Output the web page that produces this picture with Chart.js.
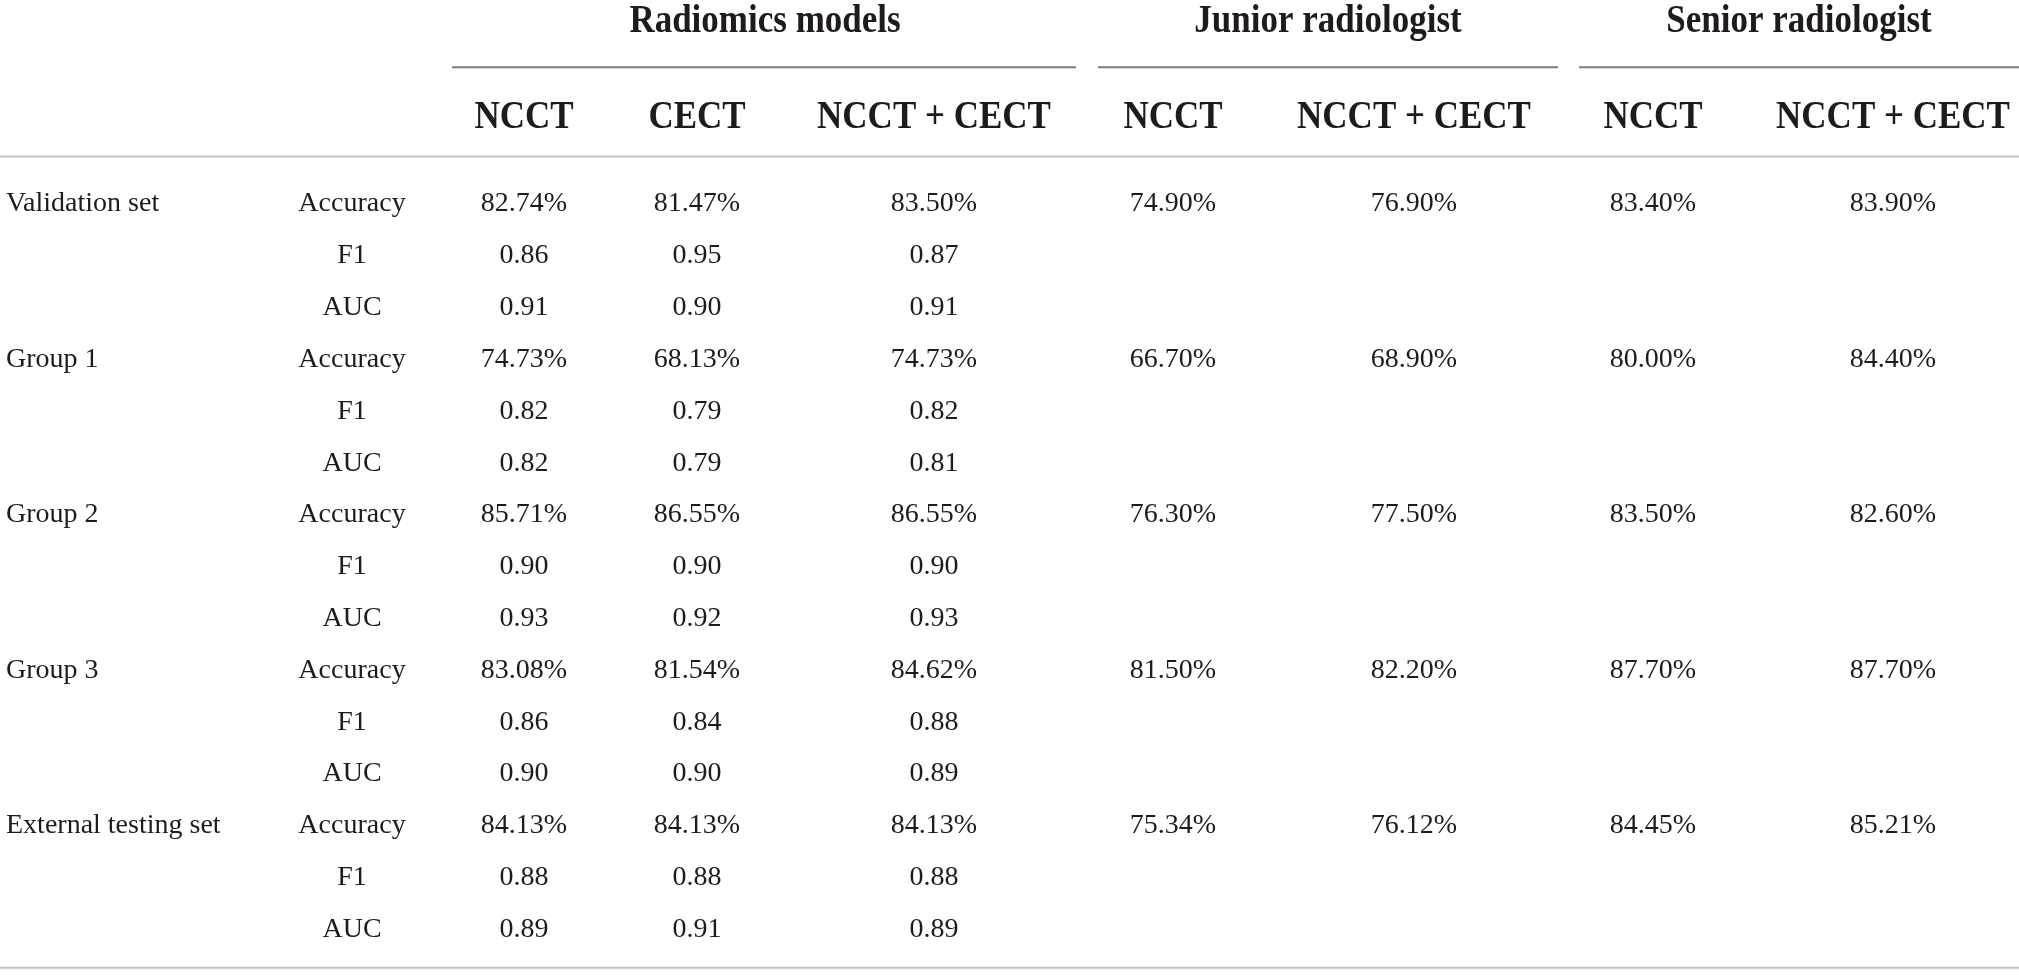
<!DOCTYPE html>
<html lang="en">
<head>
  <meta charset="UTF-8">
  <title>Radiomics models vs radiologists</title>
  <style>
body {
  margin: 0;
  padding: 0;
  background: #ffffff;
  overflow: hidden;
}
#table {
  display: block;
}
  </style>
</head>
<body>
  <canvas id="table" width="2019" height="975"></canvas>

  <script src="https://cdn.jsdelivr.net/npm/chart.js"></script>
  <script>
    // Table content
    const groups = ['Validation set', 'Group 1', 'Group 2', 'Group 3', 'External testing set'];
    const metrics = ['Accuracy', 'F1', 'AUC'];
    const headerGroups = ['Radiomics models', 'Junior radiologist', 'Senior radiologist'];
    const subHeaders = ['NCCT', 'CECT', 'NCCT + CECT', 'NCCT', 'NCCT + CECT', 'NCCT', 'NCCT + CECT'];

    // Radiomics models: accuracy (%), F1, AUC per group
    const radNcctAcc = [82.74, 74.73, 85.71, 83.08, 84.13];
    const radNcctF1 = [0.86, 0.82, 0.90, 0.86, 0.88];
    const radNcctAuc = [0.91, 0.82, 0.93, 0.90, 0.89];
    const radCectAcc = [81.47, 68.13, 86.55, 81.54, 84.13];
    const radCectF1 = [0.95, 0.79, 0.90, 0.84, 0.88];
    const radCectAuc = [0.90, 0.79, 0.92, 0.90, 0.91];
    const radBothAcc = [83.50, 74.73, 86.55, 84.62, 84.13];
    const radBothF1 = [0.87, 0.82, 0.90, 0.88, 0.88];
    const radBothAuc = [0.91, 0.81, 0.93, 0.89, 0.89];

    // Radiologists: accuracy (%) only
    const juniorNcct = [74.90, 66.70, 76.30, 81.50, 75.34];
    const juniorBoth = [76.90, 68.90, 77.50, 82.20, 76.12];
    const seniorNcct = [83.40, 80.00, 83.50, 87.70, 84.45];
    const seniorBoth = [83.90, 84.40, 82.60, 87.70, 85.21];

    // Layout (x in pixels, y in row units)
    const labelX = 6;
    const metricX = 352;
    const colX = [524, 697, 934, 1173, 1414, 1653, 1893];
    const groupX = [765, 1328, 1799];
    const groupSpans = [[452, 1076], [1098, 1558], [1579, 2019]];
    const groupTitleY = -3.53;
    const groupLineY = -2.64;
    const subHeaderY = -1.67;
    const headLineY = -0.92;
    const bottomLineY = 14.74;

    const textColor = '#1f1b1c';
    const bodyFont = '28px "Liberation Serif", "DejaVu Serif", serif';
    const headFont = 'bold 35px "Liberation Serif", "DejaVu Serif", serif';

    const pct = v => v.toFixed(2) + '%';
    const dec = v => v.toFixed(2);

    function textSet(points, texts, font, align, stretch) {
      return {
        type: 'scatter',
        data: points,
        texts: texts,
        font: font,
        align: align,
        stretch: stretch || 1,
        pointRadius: 0,
        showLine: false
      };
    }

    function rule(x0, x1, y, color) {
      return {
        type: 'line',
        data: [{ x: x0, y: y }, { x: x1, y: y }],
        borderColor: color,
        borderWidth: 2,
        pointRadius: 0,
        showLine: true,
        fill: false
      };
    }

    const datasets = [];

    // header rows
    datasets.push(textSet(groupX.map(x => ({ x: x, y: groupTitleY })), headerGroups, headFont, 'center', 1.15));
    datasets.push(textSet(colX.map(x => ({ x: x, y: subHeaderY })), subHeaders, headFont, 'center', 1.15));

    // row labels
    datasets.push(textSet(groups.map((g, i) => ({ x: labelX, y: i * 3 })), groups, bodyFont, 'left'));
    const metricPts = [], metricTxt = [];
    groups.forEach((g, i) => {
      metrics.forEach((m, j) => {
        metricPts.push({ x: metricX, y: i * 3 + j });
        metricTxt.push(m);
      });
    });
    datasets.push(textSet(metricPts, metricTxt, bodyFont, 'center'));

    // radiomics columns
    [[radNcctAcc, radNcctF1, radNcctAuc], [radCectAcc, radCectF1, radCectAuc], [radBothAcc, radBothF1, radBothAuc]]
      .forEach((cols, c) => {
        const pts = [], txt = [];
        groups.forEach((g, i) => {
          pts.push({ x: colX[c], y: i * 3 }); txt.push(pct(cols[0][i]));
          pts.push({ x: colX[c], y: i * 3 + 1 }); txt.push(dec(cols[1][i]));
          pts.push({ x: colX[c], y: i * 3 + 2 }); txt.push(dec(cols[2][i]));
        });
        datasets.push(textSet(pts, txt, bodyFont, 'center'));
      });

    // radiologist columns
    [juniorNcct, juniorBoth, seniorNcct, seniorBoth].forEach((vals, k) => {
      const c = k + 3;
      datasets.push(textSet(vals.map((v, i) => ({ x: colX[c], y: i * 3 })), vals.map(pct), bodyFont, 'center'));
    });

    // rules
    groupSpans.forEach(s => datasets.push(rule(s[0], s[1], groupLineY, '#7d7d7d')));
    datasets.push(rule(0, 2019, headLineY, '#c4c4c4'));
    datasets.push(rule(0, 2019, bottomLineY, '#c4c4c4'));

    // draws the cell texts at the point positions from the scales
    const cellText = {
      id: 'cellText',
      afterDatasetsDraw(chart) {
        const ctx = chart.ctx;
        chart.data.datasets.forEach((ds, i) => {
          if (!ds.texts) return;
          const meta = chart.getDatasetMeta(i);
          meta.data.forEach((pt, j) => {
            ctx.save();
            ctx.fillStyle = textColor;
            ctx.textBaseline = 'middle';
            ctx.font = ds.font;
            ctx.textAlign = ds.align;
            ctx.translate(pt.x, pt.y);
            ctx.scale(1, ds.stretch);
            ctx.fillText(ds.texts[j], 0, 0);
            ctx.restore();
          });
        });
      }
    };

    const tableChart = new Chart(document.getElementById('table').getContext('2d'), {
      type: 'scatter',
      data: { datasets: datasets },
      plugins: [cellText],
      options: {
        responsive: false,
        animation: false,
        devicePixelRatio: 1,
        layout: { padding: 0 },
        plugins: {
          legend: { display: false },
          tooltip: { enabled: false }
        },
        scales: {
          x: { type: 'linear', display: false, min: 0, max: 2019 },
          y: { type: 'linear', display: false, reverse: true, min: -3.94, max: 14.88 }
        }
      }
    });
  </script>
</body>
</html>
